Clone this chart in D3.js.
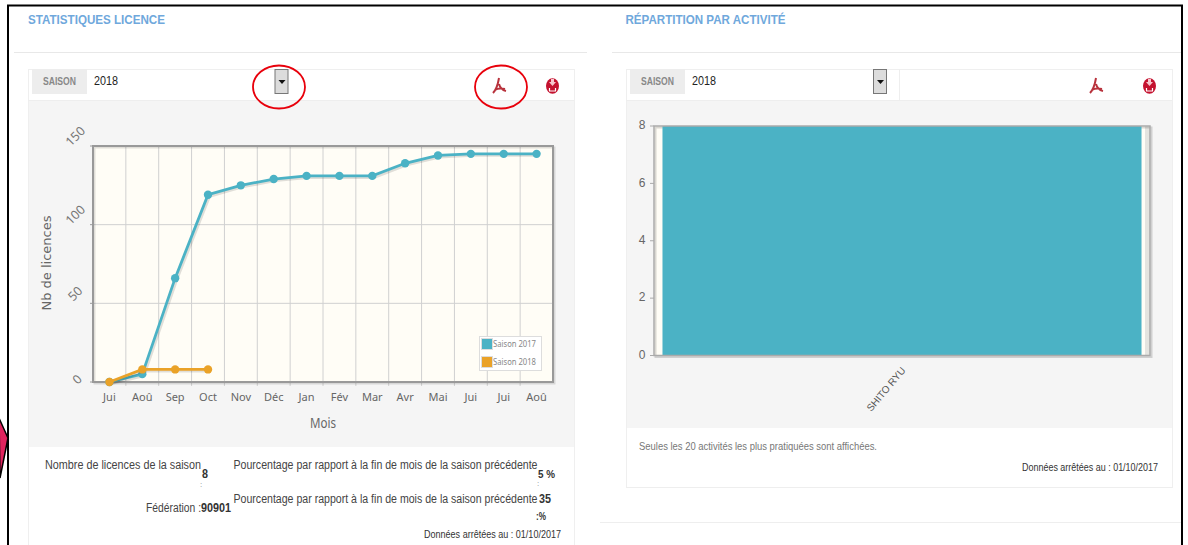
<!DOCTYPE html>
<html>

<head>
    <meta charset="utf-8">
    <title>statistiques</title>
    <style>
        html, body { margin: 0; padding: 0; background: #fff; overflow: hidden; }
    </style>
</head>

<body>
    <script src="https://d3js.org/d3.v7.min.js"></script>
    <svg width="1188" height="545" id="mainsvg"></svg>

    <script>
        // values
        const months = ['Jui', 'Aoû', 'Sep', 'Oct', 'Nov', 'Déc', 'Jan', 'Fév', 'Mar', 'Avr', 'Mai', 'Jui ', 'Jui  ', 'Aoû '];
        const saison2017 = [0, 5, 66, 119, 125, 129, 131, 131, 131, 139, 144, 145, 145, 145];
        const saison2018 = [0, 8, 8, 8];
        const licenceTicks = [0, 50, 100, 150];
        const activites = ['SHITO RYU'];
        const activiteValues = [8];
        const activiteTicks = [0, 2, 4, 6, 8];

        const teal = '#4bb2c5', orange = '#eaa228';
        const arial = '"Liberation Sans", Arial, sans-serif';
        const trebuc = '"Noto Sans", sans-serif';

        const svg = d3.select('#mainsvg');

        function rect(x, y, w, h, fill, stroke) {
            return svg.append('rect').attr('x', x).attr('y', y).attr('width', w).attr('height', h)
                .attr('fill', fill).attr('stroke', stroke || 'none');
        }
        function hline(x1, x2, y, color) {
            svg.append('line').attr('x1', x1).attr('x2', x2).attr('y1', y).attr('y2', y).attr('stroke', color);
        }
        // len squeezes the text to the width it has in the screenshot
        function text(x, y, s, o) {
            o = o || {};
            const t = svg.append('text').attr('x', x).attr('y', y).text(s)
                .attr('font-family', o.font || arial)
                .attr('font-size', o.size || 12)
                .attr('font-weight', o.weight || 'normal')
                .attr('fill', o.color || '#333')
                .attr('text-anchor', o.anchor || 'start')
                .attr('dominant-baseline', 'middle');
            if (o.len) t.attr('textLength', o.len).attr('lengthAdjust', 'spacingAndGlyphs');
            return t;
        }

        // page frame and the two panels
        function panel(titre, titreX, titreLen, lineX1, lineX2, px, pw, grayBottom, selectX, btnX, pdfX, saveX) {
            text(titreX, 21, titre, { size: 12, weight: 'bold', color: '#6fa8dc', len: titreLen });
            hline(lineX1, lineX2, 52.5, '#e8e8e8');
            rect(px + 0.5, 69.5, pw, 480, '#fff', '#efefef');
            rect(px + 1, 101, pw - 1, grayBottom - 101, '#f5f5f5');
            hline(px, px + pw, 100.5, '#eee');
            rect(px + 4, 69, 55, 25, '#ededed');
            text(px + 31.5, 82, 'SAISON', { size: 10.5, weight: 'bold', color: '#888', anchor: 'middle', len: 33 });
            text(selectX, 82, '2018', { size: 12, color: '#222', len: 24 });

            // select button
            svg.append('rect').attr('x', btnX + 0.5).attr('y', 69.5).attr('width', 13).attr('height', 24)
                .attr('fill', '#dcdcdc').attr('stroke', '#777');
            svg.append('path').attr('d', `M${btnX + 4},80 h7 l-3.5,4 z`).attr('fill', '#111');

            // pdf icon
            svg.append('path')
                .attr('d', `M${pdfX + 7},78 C${pdfX + 6},84 ${pdfX + 4},90 ${pdfX + 1},93 M${pdfX + 7},84 C${pdfX + 8},88 ${pdfX + 10},90 ${pdfX + 14},91 M${pdfX + 3},90 C${pdfX + 6},88 ${pdfX + 9},88 ${pdfX + 13},89`)
                .attr('fill', 'none').attr('stroke', '#b8323c').attr('stroke-width', 2);

            // save icon
            svg.append('ellipse').attr('cx', saveX + 6.5).attr('cy', 86).attr('rx', 6.5).attr('ry', 7.8).attr('fill', '#c4122f');
            svg.append('path').attr('d', `M${saveX + 5},79 h3 v3 h2 l-3.5,4 l-3.5,-4 h2 z`).attr('fill', '#f6c6cd');
            svg.append('path').attr('d', `M${saveX + 3.5},88 v3 h6 v-3`).attr('fill', 'none').attr('stroke', '#fff').attr('stroke-width', 1.2);
        }

        panel('STATISTIQUES LICENCE', 28, 137, 14, 587, 28, 546, 447, 94, 274.5, 492, 546);
        panel('RÉPARTITION PAR ACTIVITÉ', 625.5, 160, 612, 1181, 626, 546, 428, 692, 873, 1089, 1143);
        // right panel ends earlier than the left one
        rect(625, 488, 556, 57, '#fff');
        hline(626, 1172, 487.5, '#eee');
        hline(600, 1181, 522.5, '#eee');
        svg.append('line').attr('x1', 899.5).attr('x2', 899.5).attr('y1', 69).attr('y2', 101).attr('stroke', '#eee');

        // line chart
        const lineX = d3.scaleBand().domain(months).range([93, 553]);
        const lineY = d3.scaleLinear().domain([0, 150]).range([382, 146]);
        const cx = i => lineX(months[i]) + lineX.bandwidth() / 2;

        rect(93, 146, 460, 236, '#fffdf6');
        const grid = svg.append('g').attr('stroke', '#d0d0d0');
        grid.selectAll('line.v').data(months.slice(1)).join('line').attr('class', 'v')
            .attr('x1', d => lineX(d)).attr('x2', d => lineX(d))
            .attr('y1', 146).attr('y2', 386);
        grid.selectAll('line.h').data(licenceTicks.slice(1, -1)).join('line').attr('class', 'h')
            .attr('x1', 93).attr('x2', 553).attr('y1', d => lineY(d)).attr('y2', d => lineY(d));

        // frame, with its shadow
        svg.append('rect').attr('x', 94.5).attr('y', 147.5).attr('width', 460).attr('height', 236)
            .attr('fill', 'none').attr('stroke', '#000').attr('stroke-opacity', 0.12).attr('stroke-width', 2);
        rect(93, 146, 460, 236, 'none', '#999').attr('stroke-width', 2);

        const line = d3.line().x((d, i) => cx(i)).y(d => lineY(d));
        function drawSeries(values, color) {
            svg.append('path').datum(values).attr('d', line).attr('fill', 'none')
                .attr('transform', 'translate(1.5,1.5)')
                .attr('stroke', '#000').attr('stroke-opacity', 0.12).attr('stroke-width', 3);
            svg.append('path').datum(values).attr('d', line).attr('fill', 'none')
                .attr('stroke', color).attr('stroke-width', 2.8);
            svg.append('g').selectAll('circle').data(values).join('circle')
                .attr('cx', (d, i) => cx(i)).attr('cy', d => lineY(d)).attr('r', 4.2).attr('fill', color);
        }
        drawSeries(saison2017, teal);
        drawSeries(saison2018, orange);

        // axes
        svg.append('g').selectAll('text').data(months).join('text')
            .attr('x', d => lineX(d) + lineX.bandwidth() / 2).attr('y', 398)
            .attr('text-anchor', 'middle').attr('dominant-baseline', 'middle')
            .attr('font-family', trebuc).attr('font-size', 11).attr('fill', '#666')
            .text(d => d.trim());
        svg.append('g').selectAll('text').data(licenceTicks).join('text')
            .attr('text-anchor', 'middle').attr('dominant-baseline', 'middle')
            .attr('font-family', trebuc).attr('font-size', 12.5).attr('fill', '#777')
            .attr('transform', d => `translate(${d === 0 ? 78 : 76},${lineY(d) - (d === 0 ? 2 : 9)}) rotate(-45)`)
            .text(d => d);
        svg.append('g').attr('stroke', '#999').selectAll('line').data(licenceTicks).join('line')
            .attr('x1', 90).attr('x2', 93).attr('y1', d => lineY(d)).attr('y2', d => lineY(d));

        text(323, 424, 'Mois', { font: trebuc, size: 14, color: '#666', anchor: 'middle', len: 26 });
        text(0, 0, 'Nb de licences', { font: '"DejaVu Sans", sans-serif', size: 13, color: '#666', anchor: 'middle' })
            .attr('transform', 'translate(47,263) rotate(-90)');

        // legend
        rect(479.5, 336.5, 62, 34, '#fff', '#ddd');
        [['Saison 2017', teal], ['Saison 2018', orange]].forEach((d, i) => {
            rect(481.5, 338.5 + i * 18, 11, 11, d[1], '#ddd');
            text(493, 344.5 + i * 18, d[0], { font: trebuc, size: 8.5, color: '#888', len: 43 });
        });

        // bar chart
        const barX = d3.scaleBand().domain(activites).range([654, 1150]).paddingOuter(0.0177);
        const barY = d3.scaleLinear().domain([0, 8]).range([355.5, 126]);

        rect(654, 126, 496, 229.5, '#fffdf6');
        rect(1145, 126, 5, 229.5, '#e4e4e0');
        svg.append('rect').attr('x', 655.5).attr('y', 127.5).attr('width', 496).attr('height', 229.5)
            .attr('fill', 'none').attr('stroke', '#000').attr('stroke-opacity', 0.15).attr('stroke-width', 2);
        svg.append('g').selectAll('rect').data(activiteValues).join('rect')
            .attr('x', (d, i) => barX(activites[i])).attr('width', barX.bandwidth())
            .attr('y', d => barY(d)).attr('height', d => barY(0) - barY(d))
            .attr('fill', teal);
        rect(654, 126, 496, 229.5, 'none', '#aaa').attr('stroke-width', 1.5);

        svg.append('g').selectAll('text').data(activiteTicks).join('text')
            .attr('x', 642).attr('y', d => barY(d))
            .attr('text-anchor', 'middle').attr('dominant-baseline', 'middle')
            .attr('font-family', arial).attr('font-size', 12).attr('fill', '#666')
            .text(d => d);
        svg.append('g').attr('stroke', '#aaa').selectAll('line').data(activiteTicks).join('line')
            .attr('x1', 650).attr('x2', 654).attr('y1', d => barY(d)).attr('y2', d => barY(d));
        text(0, 0, activites[0], { size: 10, color: '#555', anchor: 'end', len: 54 })
            .attr('transform', 'translate(904,369) rotate(-50)');

        // notes under the charts
        text(45, 466, 'Nombre de licences de la saison', { size: 12, color: '#444', len: 156 });
        text(202, 475, '8', { size: 12, weight: 'bold', color: '#333', len: 6 });
        text(200, 485, ':', { size: 8, color: '#888' });
        text(233.5, 466, 'Pourcentage par rapport à la fin de mois de la saison précédente', { size: 12, color: '#444', len: 304 });
        text(538, 475, '5 %', { size: 11, weight: 'bold', color: '#333', len: 17 });
        text(537, 484, ':', { size: 8, color: '#888' });
        text(146, 508.5, 'Fédération :', { size: 12, color: '#444', len: 55 });
        text(201, 508.5, '90901', { size: 12, weight: 'bold', color: '#333', len: 30 });
        text(233.5, 500, 'Pourcentage par rapport à la fin de mois de la saison précédente', { size: 12, color: '#444', len: 304 });
        text(539, 500, '35', { size: 12, weight: 'bold', color: '#333', len: 12 });
        text(536, 517, ':%', { size: 11, weight: 'bold', color: '#333', len: 10 });
        text(561, 535, 'Données arrêtées au : 01/10/2017', { size: 10.5, color: '#333', anchor: 'end', len: 137 });

        text(639, 447, 'Seules les 20 activités les plus pratiquées sont affichées.', { size: 11, color: '#777', len: 238 });
        text(1158, 468, 'Données arrêtées au : 01/10/2017', { size: 10.5, color: '#333', anchor: 'end', len: 136 });

        // hand drawn annotations on the screenshot
        svg.append('ellipse').attr('cx', 279).attr('cy', 87).attr('rx', 26).attr('ry', 21.5)
            .attr('fill', 'none').attr('stroke', '#e8000b').attr('stroke-width', 1.8);
        svg.append('ellipse').attr('cx', 501).attr('cy', 87).attr('rx', 26).attr('ry', 21.5)
            .attr('fill', 'none').attr('stroke', '#e8000b').attr('stroke-width', 1.8);

        // outer black frame
        svg.append('path').attr('d', 'M8,545 V5.5 H1182 V545').attr('fill', 'none').attr('stroke', '#000').attr('stroke-width', 2);
        svg.append('path').attr('d', 'M-1,418 L8,438 L0,478 z').attr('fill', '#e0245e').attr('stroke', '#000').attr('stroke-width', 1.5);
    </script>
</body>

</html>
